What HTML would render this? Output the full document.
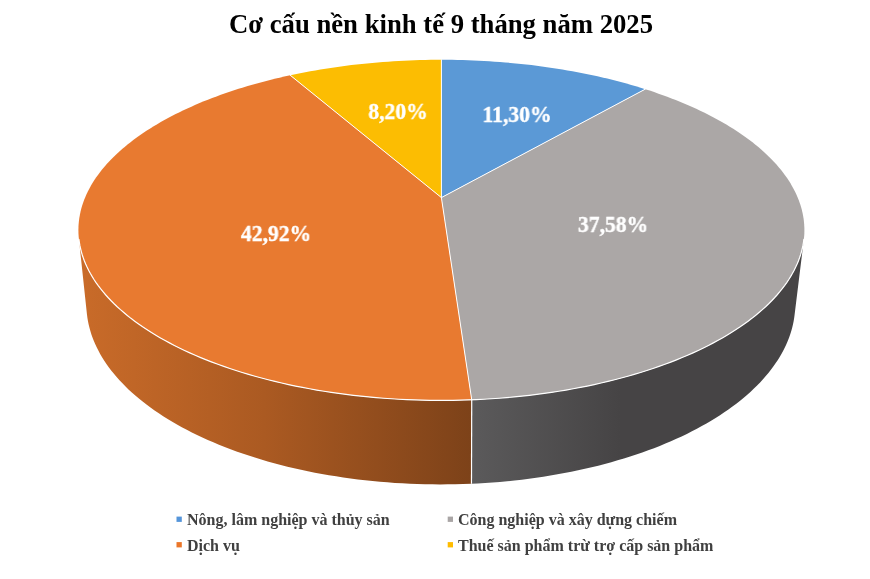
<!DOCTYPE html>
<html><head><meta charset="utf-8">
<style>
html,body{margin:0;padding:0;background:#fff;overflow:hidden;}
body{width:870px;height:579px;position:relative;overflow:hidden;font-family:"Liberation Serif",serif;}
svg{position:absolute;left:0;top:0;}
.t{position:absolute;white-space:nowrap;font-weight:bold;line-height:1;will-change:transform;}
.title{font-size:26.7px;color:#000;left:228.6px;top:10.5px;}
.lab{font-size:22.4px;color:#fff;-webkit-text-stroke:0.4px #fff;transform:translateX(-50%) scaleX(0.964);}
.leg{font-size:16px;color:#404040;}
.mk{position:absolute;width:5.3px;height:5.3px;}
</style></head><body>
<svg width="870" height="579" viewBox="0 0 870 579">
<defs>
<linearGradient id="os" gradientUnits="userSpaceOnUse" x1="80" y1="0" x2="471" y2="0">
<stop offset="0" stop-color="#C96B29"/><stop offset="0.47" stop-color="#AB5A22"/><stop offset="1" stop-color="#7D4219"/>
</linearGradient>
<linearGradient id="gs" gradientUnits="userSpaceOnUse" x1="472" y1="0" x2="620" y2="0">
<stop offset="0" stop-color="#5B5A5B"/><stop offset="1" stop-color="#464445"/>
</linearGradient>
</defs>
<polygon points="803.87,239.27 803.46,242.33 802.93,245.40 802.28,248.47 801.51,251.54 800.62,254.62 799.60,257.70 798.46,260.79 797.19,263.87 795.80,266.95 794.28,270.03 792.64,273.10 790.86,276.17 788.96,279.23 786.93,282.29 784.77,285.34 782.49,288.38 780.07,291.40 777.52,294.42 774.84,297.42 772.03,300.40 769.09,303.37 766.02,306.32 762.81,309.25 759.48,312.16 756.02,315.05 752.43,317.91 748.71,320.75 744.86,323.56 740.88,326.34 736.77,329.09 732.54,331.82 728.18,334.51 723.69,337.16 719.09,339.78 714.35,342.37 709.50,344.91 704.53,347.42 699.44,349.88 694.23,352.30 688.90,354.68 683.46,357.01 677.91,359.29 672.25,361.53 666.48,363.71 660.60,365.85 654.62,367.93 648.53,369.95 642.35,371.92 636.07,373.84 629.70,375.70 623.23,377.49 616.68,379.23 610.03,380.91 603.31,382.52 596.50,384.07 589.62,385.56 582.66,386.98 575.63,388.33 568.54,389.61 561.38,390.83 554.15,391.98 546.87,393.05 539.54,394.06 532.16,394.99 524.73,395.85 517.26,396.64 509.74,397.35 502.20,397.99 494.62,398.56 487.01,399.05 479.38,399.47 471.73,399.80 471.48,483.78 477.72,483.42 485.13,482.98 492.53,482.47 499.89,481.88 507.23,481.21 514.53,480.46 521.80,479.63 529.02,478.73 536.20,477.75 543.33,476.69 550.41,475.56 557.44,474.36 564.40,473.08 571.31,471.74 578.14,470.32 584.91,468.83 591.61,467.27 598.24,465.64 604.78,463.95 611.25,462.19 617.63,460.36 623.93,458.48 630.14,456.52 636.26,454.51 642.28,452.44 648.21,450.31 654.04,448.13 659.77,445.89 665.40,443.59 670.92,441.24 676.34,438.84 681.64,436.39 686.84,433.89 691.93,431.35 696.90,428.76 701.76,426.12 706.50,423.44 711.12,420.73 715.63,417.97 720.01,415.17 724.28,412.34 728.42,409.48 732.44,406.58 736.33,403.65 740.11,400.69 743.75,397.70 747.28,394.68 750.67,391.64 753.94,388.57 757.09,385.49 760.10,382.38 763.00,379.25 765.76,376.10 768.40,372.94 770.91,369.76 773.29,366.57 775.55,363.36 777.68,360.15 779.69,356.92 781.57,353.69 783.33,350.44 784.96,347.20 786.47,343.95 787.85,340.69 789.12,337.44 790.26,334.18 791.28,330.93 792.18,327.67 792.96,324.42 793.63,321.17 794.17,317.93 794.60,314.69" fill="url(#gs)" stroke="none" stroke-width="0.6"/>
<polygon points="471.73,399.80 463.98,400.07 456.22,400.26 448.44,400.37 440.67,400.40 432.89,400.35 425.12,400.23 417.36,400.03 409.61,399.75 401.87,399.39 394.16,398.95 386.47,398.44 378.82,397.85 371.19,397.18 363.60,396.44 356.06,395.63 348.56,394.74 341.10,393.77 333.70,392.73 326.36,391.62 319.07,390.44 311.85,389.19 304.70,387.86 297.61,386.47 290.61,385.01 283.67,383.48 276.82,381.89 270.05,380.23 263.37,378.51 256.78,376.73 250.28,374.88 243.87,372.98 237.57,371.02 231.36,369.00 225.26,366.92 219.26,364.79 213.37,362.60 207.59,360.37 201.92,358.08 196.36,355.75 190.93,353.36 185.61,350.93 180.40,348.46 175.32,345.94 170.37,343.39 165.53,340.79 160.83,338.15 156.24,335.48 151.79,332.77 147.46,330.03 143.27,327.25 139.20,324.45 135.27,321.61 131.46,318.75 127.79,315.86 124.25,312.95 120.85,310.01 117.58,307.06 114.44,304.08 111.43,301.08 108.56,298.06 105.82,295.03 103.22,291.99 100.75,288.93 98.41,285.86 96.20,282.78 94.13,279.69 92.19,276.59 90.38,273.49 88.70,270.38 87.15,267.26 85.73,264.15 84.44,261.03 83.27,257.91 82.24,254.80 81.33,251.68 80.54,248.57 79.88,245.47 79.34,242.37 78.93,239.27 87.00,314.69 87.43,317.97 87.99,321.25 88.66,324.53 89.46,327.82 90.37,331.11 91.41,334.40 92.58,337.70 93.87,340.99 95.28,344.28 96.82,347.57 98.49,350.85 100.28,354.13 102.20,357.40 104.25,360.66 106.43,363.91 108.73,367.15 111.17,370.38 113.73,373.59 116.43,376.78 119.25,379.96 122.21,383.12 125.29,386.26 128.50,389.38 131.84,392.47 135.31,395.54 138.91,398.59 142.64,401.60 146.50,404.59 150.48,407.54 154.58,410.46 158.82,413.35 163.17,416.20 167.65,419.01 172.26,421.78 176.98,424.52 181.82,427.21 186.78,429.85 191.86,432.45 197.06,435.01 202.36,437.51 207.78,439.97 213.31,442.37 218.95,444.72 224.69,447.02 230.54,449.26 236.49,451.44 242.53,453.56 248.68,455.62 254.92,457.62 261.25,459.56 267.67,461.43 274.17,463.24 280.76,464.98 287.43,466.65 294.18,468.25 301.00,469.79 307.89,471.25 314.85,472.64 321.88,473.95 328.96,475.19 336.10,476.36 343.30,477.45 350.55,478.46 357.84,479.39 365.18,480.25 372.56,481.03 379.97,481.73 387.41,482.34 394.89,482.88 402.38,483.34 409.90,483.71 417.43,484.01 424.98,484.22 432.53,484.35 440.09,484.40 447.65,484.37 455.20,484.25 462.75,484.05 471.48,483.78" fill="url(#os)" stroke="none" stroke-width="0.6"/>
<polygon points="441.40,197.60 441.40,59.80 446.74,59.82 452.07,59.87 457.41,59.97 462.74,60.09 468.07,60.26 473.39,60.46 478.71,60.70 484.02,60.98 489.33,61.29 494.63,61.64 499.91,62.03 505.19,62.45 510.46,62.91 515.72,63.41 520.96,63.94 526.19,64.51 531.41,65.12 536.61,65.76 541.79,66.44 546.96,67.16 552.11,67.91 557.24,68.70 562.35,69.53 567.44,70.40 572.51,71.30 577.55,72.23 582.58,73.21 587.57,74.22 592.54,75.26 597.48,76.35 602.40,77.47 607.29,78.62 612.14,79.81 616.97,81.04 621.76,82.31 626.52,83.61 631.24,84.95 635.93,86.32 640.59,87.73 645.20,89.17" fill="#5B99D6"/>
<polygon points="441.40,197.60 645.20,89.17 649.69,90.62 654.13,92.11 658.54,93.63 662.91,95.18 667.23,96.77 671.51,98.39 675.75,100.04 679.94,101.73 684.09,103.46 688.19,105.21 692.24,107.00 696.24,108.82 700.19,110.68 704.09,112.57 707.94,114.49 711.73,116.44 715.46,118.43 719.14,120.45 722.76,122.50 726.32,124.58 729.82,126.70 733.26,128.84 736.64,131.02 739.95,133.22 743.19,135.46 746.37,137.73 749.47,140.03 752.51,142.36 755.48,144.72 758.37,147.10 761.19,149.52 763.93,151.96 766.60,154.43 769.19,156.93 771.70,159.46 774.13,162.01 776.47,164.59 778.73,167.20 780.91,169.83 783.00,172.49 785.00,175.17 786.91,177.87 788.73,180.60 790.46,183.35 792.09,186.13 793.63,188.92 795.07,191.74 796.41,194.57 797.66,197.43 798.80,200.31 799.84,203.20 800.78,206.11 801.61,209.04 802.34,211.99 802.96,214.95 803.47,217.92 803.87,220.91 804.16,223.92 804.34,226.93 804.40,229.96 804.35,232.99 804.18,236.04 803.89,239.09 803.49,242.15 802.97,245.22 802.32,248.30 801.56,251.37 800.67,254.46 799.66,257.54 798.52,260.62 797.26,263.71 795.88,266.79 794.36,269.87 792.72,272.95 790.95,276.02 789.06,279.09 787.03,282.15 784.88,285.20 782.59,288.24 780.18,291.27 777.63,294.28 774.96,297.29 772.15,300.27 769.21,303.25 766.14,306.20 762.94,309.13 759.61,312.05 756.15,314.94 752.56,317.80 748.84,320.64 744.99,323.46 741.02,326.24 736.91,329.00 732.68,331.73 728.32,334.42 723.84,337.08 719.23,339.70 714.50,342.29 709.65,344.84 704.67,347.35 699.58,349.81 694.37,352.24 689.04,354.62 683.60,356.95 678.05,359.24 672.38,361.47 666.61,363.66 660.73,365.80 654.75,367.88 648.66,369.91 642.47,371.89 636.19,373.80 629.81,375.66 623.34,377.46 616.78,379.20 610.14,380.88 603.41,382.50 596.60,384.05 589.71,385.54 582.75,386.96 575.71,388.31 568.61,389.60 561.45,390.82 554.22,391.97 546.93,393.04 539.60,394.05 532.21,394.99 524.77,395.85 517.29,396.64 509.77,397.35 502.22,397.99 494.64,398.56 487.03,399.05 479.39,399.46 471.73,399.80" fill="#ABA7A6"/>
<polygon points="441.40,197.60 471.73,399.80 464.06,400.07 456.37,400.26 448.67,400.37 440.97,400.40 433.27,400.36 425.57,400.24 417.88,400.04 410.21,399.77 402.55,399.42 394.91,399.00 387.29,398.50 379.71,397.92 372.15,397.27 364.63,396.55 357.15,395.75 349.72,394.88 342.33,393.93 334.99,392.92 327.71,391.83 320.48,390.67 313.32,389.45 306.22,388.15 299.19,386.79 292.23,385.36 285.35,383.86 278.54,382.30 271.82,380.67 265.18,378.99 258.62,377.24 252.16,375.43 245.79,373.56 239.51,371.63 233.33,369.65 227.26,367.61 221.28,365.52 215.41,363.37 209.65,361.18 203.99,358.93 198.45,356.63 193.02,354.29 187.71,351.91 182.51,349.47 177.43,347.00 172.47,344.48 167.63,341.93 162.91,339.33 158.32,336.70 153.85,334.04 149.50,331.34 145.29,328.60 141.20,325.84 137.23,323.05 133.40,320.23 129.70,317.38 126.12,314.51 122.68,311.61 119.37,308.69 116.19,305.75 113.13,302.80 110.21,299.82 107.43,296.83 104.77,293.82 102.24,290.80 99.84,287.77 97.58,284.72 95.44,281.67 93.43,278.60 91.56,275.53 89.81,272.46 88.19,269.38 86.69,266.29 85.33,263.21 84.08,260.12 82.97,257.03 81.98,253.95 81.11,250.87 80.36,247.79 79.74,244.71 79.23,241.64 78.85,238.58 78.58,235.52 78.44,232.48 78.40,229.44 78.49,226.41 78.68,223.40 78.99,220.40 79.41,217.41 79.94,214.43 80.58,211.47 81.32,208.53 82.18,205.60 83.13,202.69 84.19,199.79 85.36,196.92 86.62,194.06 87.98,191.23 89.44,188.41 91.00,185.62 92.65,182.85 94.40,180.10 96.24,177.37 98.17,174.67 100.19,171.99 102.29,169.34 104.49,166.71 106.77,164.10 109.13,161.53 111.57,158.98 114.10,156.45 116.70,153.96 119.39,151.49 122.15,149.05 124.98,146.64 127.89,144.25 130.88,141.90 133.93,139.58 137.05,137.28 140.25,135.02 143.51,132.78 146.83,130.58 150.22,128.41 153.67,126.27 157.19,124.16 160.77,122.08 164.40,120.04 168.09,118.02 171.84,116.04 175.65,114.09 179.51,112.18 183.42,110.29 187.39,108.44 191.40,106.63 195.47,104.84 199.58,103.09 203.74,101.37 207.94,99.69 212.20,98.04 216.49,96.43 220.83,94.85 225.21,93.30 229.62,91.79 234.08,90.31 238.58,88.86 243.11,87.45 247.68,86.08 252.28,84.74 256.92,83.43 261.59,82.16 266.29,80.92 271.03,79.72 275.79,78.56 280.58,77.42 285.40,76.33 290.25,75.27" fill="#E87A30"/>
<polygon points="441.40,197.60 290.25,75.27 295.22,74.22 300.22,73.21 305.24,72.23 310.28,71.30 315.35,70.40 320.44,69.53 325.55,68.71 330.68,67.92 335.83,67.16 341.00,66.44 346.18,65.76 351.39,65.12 356.60,64.51 361.83,63.94 367.08,63.41 372.33,62.91 377.60,62.45 382.88,62.03 388.17,61.64 393.47,61.29 398.77,60.98 404.09,60.70 409.41,60.46 414.73,60.26 420.06,60.09 425.39,59.97 430.73,59.87 436.06,59.82 441.40,59.80" fill="#FCBD02"/>
<line x1="441.40" y1="197.60" x2="441.40" y2="59.80" stroke="#fff" stroke-width="1.0" stroke-linecap="round"/>
<line x1="441.40" y1="197.60" x2="645.20" y2="89.17" stroke="#fff" stroke-width="1.0" stroke-linecap="round"/>
<line x1="441.40" y1="197.60" x2="471.73" y2="399.80" stroke="#fff" stroke-width="1.0" stroke-linecap="round"/>
<line x1="441.40" y1="197.60" x2="290.25" y2="75.27" stroke="#fff" stroke-width="1.0" stroke-linecap="round"/>
<polyline points="803.87,239.27 803.46,242.35 802.93,245.43 802.27,248.52 801.49,251.62 800.59,254.71 799.56,257.81 798.41,260.91 797.13,264.01 795.72,267.11 794.19,270.21 792.53,273.30 790.73,276.39 788.81,279.47 786.76,282.55 784.57,285.61 782.26,288.67 779.81,291.71 777.24,294.74 774.53,297.76 771.68,300.76 768.71,303.74 765.60,306.70 762.36,309.65 758.99,312.57 755.49,315.47 751.86,318.35 748.09,321.20 744.20,324.02 740.18,326.82 736.02,329.58 731.74,332.32 727.33,335.02 722.80,337.68 718.14,340.31 713.35,342.90 708.44,345.45 703.42,347.96 698.27,350.43 693.00,352.86 687.61,355.24 682.11,357.57 676.50,359.86 670.78,362.09 664.94,364.28 659.00,366.41 652.96,368.49 646.81,370.51 640.56,372.48 634.22,374.39 627.78,376.24 621.25,378.03 614.62,379.76 607.92,381.43 601.12,383.03 594.25,384.57 587.30,386.04 580.28,387.44 573.19,388.78 566.02,390.05 558.80,391.25 551.51,392.38 544.17,393.43 536.77,394.42 529.33,395.33 521.84,396.17 514.30,396.93 506.73,397.62 499.13,398.23 491.49,398.77 483.83,399.23 476.15,399.62 468.44,399.93 460.73,400.16 453.00,400.31 445.27,400.39 437.53,400.39 429.80,400.31 422.07,400.16 414.36,399.93 406.65,399.62 398.97,399.23 391.31,398.77 383.67,398.23 376.07,397.62 368.50,396.93 360.96,396.17 353.47,395.33 346.03,394.42 338.63,393.43 331.29,392.38 324.00,391.25 316.78,390.05 309.61,388.78 302.52,387.44 295.50,386.04 288.55,384.57 281.68,383.03 274.88,381.43 268.18,379.76 261.55,378.03 255.02,376.24 248.58,374.39 242.24,372.48 235.99,370.51 229.84,368.49 223.80,366.41 217.86,364.28 212.02,362.09 206.30,359.86 200.69,357.57 195.19,355.24 189.80,352.86 184.53,350.43 179.38,347.96 174.36,345.45 169.45,342.90 164.66,340.31 160.00,337.68 155.47,335.02 151.06,332.32 146.78,329.58 142.62,326.82 138.60,324.02 134.71,321.20 130.94,318.35 127.31,315.47 123.81,312.57 120.44,309.65 117.20,306.70 114.09,303.74 111.12,300.76 108.27,297.76 105.56,294.74 102.99,291.71 100.54,288.67 98.23,285.61 96.04,282.55 93.99,279.47 92.07,276.39 90.27,273.30 88.61,270.21 87.08,267.11 85.67,264.01 84.39,260.91 83.24,257.81 82.21,254.71 81.31,251.62 80.53,248.52 79.87,245.43 79.34,242.35 78.93,239.27" fill="none" stroke="#fff" stroke-width="1.2" stroke-linecap="round"/>
<line x1="471.73" y1="399.80" x2="471.48" y2="483.78" stroke="#fff" stroke-width="1.2"/>
<rect x="176.5" y="516.6" width="5.3" height="5.3" fill="#5595DA"/>
<rect x="176.5" y="542.1" width="5.3" height="5.3" fill="#EB7628"/>
<rect x="447.7" y="516.6" width="5.3" height="5.3" fill="#A9A5A5"/>
<rect x="447.7" y="542.1" width="5.3" height="5.3" fill="#FFBC00"/>
</svg>
<div class="t title">Cơ cấu nền kinh tế 9 tháng năm 2025</div>
<div class="t lab" style="left:517.0px;top:103.8px;">11,30%</div>
<div class="t lab" style="left:397.7px;top:100.9px;">8,20%</div>
<div class="t lab" style="left:613.1px;top:213.6px;">37,58%</div>
<div class="t lab" style="left:275.9px;top:222.7px;">42,92%</div>
<div class="t leg" style="left:187.3px;top:511.6px;">Nông, lâm nghiệp và thủy sản</div>
<div class="t leg" style="left:187.3px;top:537.7px;">Dịch vụ</div>
<div class="t leg" style="left:458.3px;top:511.6px;">Công nghiệp và xây dựng chiếm</div>
<div class="t leg" style="left:458.3px;top:537.7px;">Thuế sản phẩm trừ trợ cấp sản phẩm</div>
</body></html>
